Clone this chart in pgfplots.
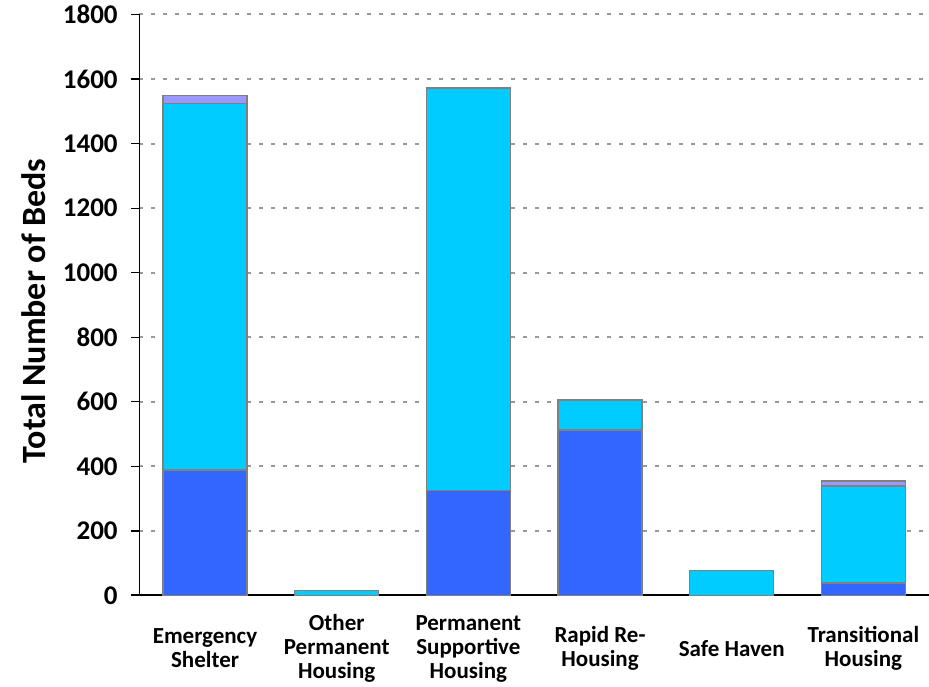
\documentclass[border=0pt]{standalone}
\usepackage{fontspec}
\setmainfont{Carlito}
\usepackage{pgfplots}
\pgfplotsset{compat=1.18}
\definecolor{cblue}{HTML}{3366FF}
\definecolor{ccyan}{HTML}{00CCFF}
\definecolor{clav}{HTML}{9999FF}
\definecolor{edgec}{HTML}{808080}
\definecolor{gridc}{HTML}{999999}
\begin{document}
\begin{tikzpicture}
\begin{axis}[
  scale only axis, width=790pt, height=581pt,
  ybar stacked, bar width=84pt,
  xmin=-0.5, xmax=5.5, ymin=0, ymax=1800,
  axis x line*=bottom, axis y line*=left,
  x axis line style={-, black, line width=2pt, shorten <=-8pt},
  y axis line style={-, black, line width=1.3pt},
  xtick={0,1,2,3,4,5},
  xticklabels={{Emergency\\Shelter},{Other\\Permanent\\Housing},{Permanent\\Supportive\\Housing},{Rapid Re-\\Housing},{Safe Haven},{Transitional\\Housing}},
  xticklabel style={align=center, anchor=center, yshift=-45pt, font=\bfseries\fontsize{23}{24}\selectfont},
  x tick style={draw=none},
  ytick={0,200,...,1800},
  tick align=outside,
  major tick length=8pt,
  y tick style={black, line width=1.3pt},
  yticklabel style={xshift=-10pt, font=\bfseries\fontsize{27}{29}\selectfont},
  /pgf/number format/assume math mode=true,
  /pgf/number format/1000 sep={},
  ymajorgrids,
  grid style={gridc, line width=2pt, dash pattern=on 4pt off 8pt},
  ylabel={Total Number of Beds},
  ylabel style={at={(axis description cs:-0.134,0.49)}, anchor=center, rotate=0, font=\bfseries\fontsize{34}{36}\selectfont},
  every axis plot/.append style={draw=edgec, line width=1.5pt},
]
\addplot[fill=cblue, draw=edgec] coordinates {(0,389) (1,0) (2,326) (3,512) (4,0) (5,39)};
\addplot[fill=ccyan, draw=edgec] coordinates {(0,1135) (1,15) (2,1247) (3,93) (4,78) (5,300)};
\addplot[fill=clav, draw=edgec] coordinates {(0,25) (1,0) (2,0) (3,0) (4,0) (5,15)};
\end{axis}
\pgfresetboundingbox
\path (current axis.south west) ++(-139.2pt,-91.5pt) rectangle ++(929pt,687pt);
\end{tikzpicture}
\end{document}
